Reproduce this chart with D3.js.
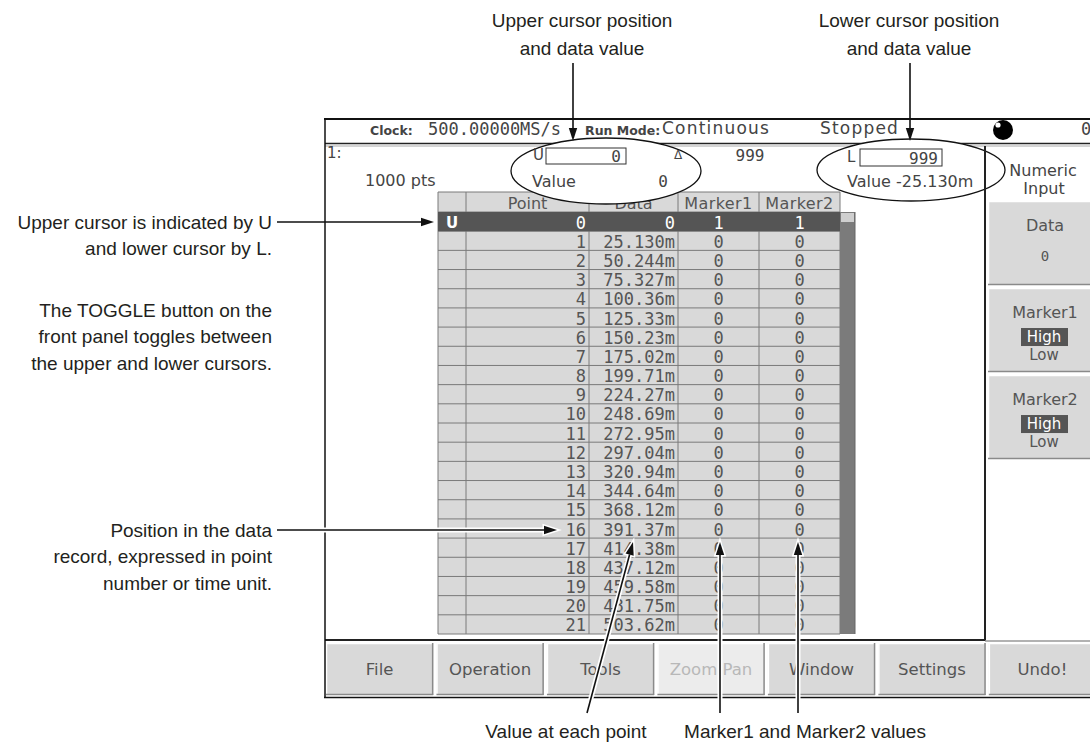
<!DOCTYPE html>
<html>
<head>
<meta charset="utf-8">
<script src="https://cdn.jsdelivr.net/npm/d3@7"></script>
<style>
  body { margin: 0; background: #fff; }
  svg { display: block; }
</style>
</head>
<body>
<script>
const pointNums = [0, 1, 2, 3, 4, 5, 6, 7, 8, 9, 10, 11, 12, 13, 14, 15, 16, 17, 18, 19, 20, 21];
const dataVals = ["0", "25.130m", "50.244m", "75.327m", "100.36m", "125.33m", "150.23m", "175.02m",
  "199.71m", "224.27m", "248.69m", "272.95m", "297.04m", "320.94m", "344.64m", "368.12m",
  "391.37m", "414.38m", "437.12m", "459.58m", "481.75m", "503.62m"];
const marker1Vals = [1, 0, 0, 0, 0, 0, 0, 0, 0, 0, 0, 0, 0, 0, 0, 0, 0, 0, 0, 0, 0, 0];
const marker2Vals = [1, 0, 0, 0, 0, 0, 0, 0, 0, 0, 0, 0, 0, 0, 0, 0, 0, 0, 0, 0, 0, 0];
const columnNames = ["", "Point", "Data", "Marker1", "Marker2"];
const menuLabels = ["File", "Operation", "Tools", "Zoom Pan", "Window", "Settings", "Undo!"];
const sideLabels = ["Data", "Marker1", "Marker2"];
const markerOptions = ["High", "Low"];
const statusLabels = ["Clock:", "Run Mode:"];
const statusValues = ["500.00000MS/s", "Continuous", "Stopped"];
const upperCursor = ["U", "0", "Value", "0"];
const lowerCursor = ["L", "999", "Value -25.130m"];
const deltaPoints = "999";
const waveInfo = ["1:", "1000 pts"];
const panelTitle = ["Numeric", "Input"];
const dataValue = "0";

const leftNotes = [
  { lines: ["Upper cursor is indicated by U", "and lower cursor by L."], y: 222 },
  { lines: ["The TOGGLE button on the", "front panel toggles between", "the upper and lower cursors."], y: 310 },
  { lines: ["Position in the data", "record, expressed in point", "number or time unit."], y: 530 }
];
const topNotes = [
  { lines: ["Upper cursor position", "and data value"], x: 582 },
  { lines: ["Lower cursor position", "and data value"], x: 909 }
];
const bottomNotes = [
  { text: "Value at each point", x: 566 },
  { text: "Marker1 and Marker2 values", x: 805 }
];

// ---- setup ----
const width = 1090, height = 744;
const MONO = "'DejaVu Sans Mono', monospace";
const SANS = "'DejaVu Sans', sans-serif";
const ANN = "'Liberation Sans', Arial, sans-serif";
const INK = "#4a4a4a";

const svg = d3.select("body").append("svg")
  .attr("width", width).attr("height", height)
  .attr("viewBox", [0, 0, width, height]);

svg.append("rect").attr("width", width).attr("height", height).attr("fill", "#fff");

const scr = svg.append("g");

function hline(g, x1, x2, y, color, w) {
  return g.append("line").attr("x1", x1).attr("x2", x2).attr("y1", y).attr("y2", y)
    .attr("stroke", color).attr("stroke-width", w || 1);
}
function vline(g, x, y1, y2, color, w) {
  return g.append("line").attr("x1", x).attr("x2", x).attr("y1", y1).attr("y2", y2)
    .attr("stroke", color).attr("stroke-width", w || 1);
}
function txt(g, s, x, y, font, size, fill, anchor) {
  return g.append("text").attr("x", x).attr("y", y)
    .attr("font-family", font).attr("font-size", size)
    .attr("fill", fill || INK).attr("text-anchor", anchor || "start")
    .attr("dominant-baseline", "central").text(s);
}

// ---- status bar ----
txt(scr, statusLabels[0], 370, 130, SANS, 12.5, "#444").attr("font-weight", "bold");
txt(scr, statusValues[0], 428, 129, MONO, 17, "#444");
txt(scr, statusLabels[1], 585, 130, SANS, 12.5, "#444").attr("font-weight", "bold");
txt(scr, statusValues[1], 662, 128, SANS, 17, "#444").attr("letter-spacing", 1.2);
txt(scr, statusValues[2], 820, 128, SANS, 17, "#444").attr("letter-spacing", 1.2);
scr.append("circle").attr("cx", 1003).attr("cy", 130).attr("r", 10).attr("fill", "#000");
scr.append("circle").attr("cx", 998).attr("cy", 125).attr("r", 2.6).attr("fill", "#fff");
txt(scr, "0", 1081, 129, MONO, 17, "#444");

hline(scr, 325, width, 143.5, "#222", 1.5);
hline(scr, 325, width, 146, "#aaa", 1);

// ---- waveform info ----
txt(scr, waveInfo[0], 327, 153, SANS, 15, "#444");
txt(scr, waveInfo[1], 365, 180, SANS, 16, "#444");

// ---- table ----
const tbl = scr.append("g");
const tableTop = 192, headerH = 20, tableBottom = 634;
const colEdges = [438, 466, 589, 678, 759, 840];
const colLeft = d3.scaleOrdinal().domain(columnNames).range(colEdges.slice(0, 5));
const colRight = d3.scaleOrdinal().domain(columnNames).range(colEdges.slice(1));
const rowY = d3.scaleBand().domain(pointNums).range([tableTop + headerH, tableBottom]);
const rh = rowY.bandwidth();

tbl.append("rect").attr("x", colEdges[0]).attr("y", tableTop)
  .attr("width", colEdges[5] - colEdges[0]).attr("height", tableBottom - tableTop)
  .attr("fill", "#d9d9d9");

// grid
tbl.selectAll("line.h").data(pointNums.concat([pointNums.length])).join("line")
  .attr("class", "h")
  .attr("x1", colEdges[0]).attr("x2", colEdges[5])
  .attr("y1", d => d < pointNums.length ? rowY(d) : tableBottom)
  .attr("y2", d => d < pointNums.length ? rowY(d) : tableBottom)
  .attr("stroke", "#7a7a7a");
hline(tbl, colEdges[0], colEdges[5], tableTop, "#7a7a7a");
tbl.selectAll("line.v").data(colEdges).join("line")
  .attr("class", "v")
  .attr("x1", d => d).attr("x2", d => d)
  .attr("y1", tableTop).attr("y2", tableBottom)
  .attr("stroke", "#7a7a7a");

// current (upper cursor) row
tbl.append("rect").attr("x", colEdges[0]).attr("y", rowY(0))
  .attr("width", colEdges[5] - colEdges[0]).attr("height", rh).attr("fill", "#555");

// scroll bar
tbl.append("rect").attr("x", colEdges[5]).attr("y", rowY(0))
  .attr("width", 15).attr("height", tableBottom - rowY(0)).attr("fill", "#7b7b7b");
tbl.append("rect").attr("x", colEdges[5] + 1).attr("y", rowY(0) + 1)
  .attr("width", 13).attr("height", 9).attr("fill", "#cfcfcf");
vline(tbl, colEdges[5] + 15, rowY(0), tableBottom, "#666");

// header
columnNames.forEach(c => {
  if (!c) return;
  txt(tbl, c, (colLeft(c) + colRight(c)) / 2, tableTop + headerH / 2 + 1, SANS, 16, "#555", "middle")
    .attr("letter-spacing", c.startsWith("Marker") ? 0.4 : 0);
});

// rows
const rows = tbl.selectAll("g.row").data(pointNums).join("g")
  .attr("class", "row")
  .attr("transform", d => `translate(0,${rowY(d) + rh / 2 + 1})`);
const rowInk = (d, i) => i === 0 ? "#fff" : "#555";
rows.append("text")
  .attr("x", (colLeft("") + colRight("")) / 2).attr("text-anchor", "middle")
  .attr("font-family", SANS).attr("font-size", 15).attr("font-weight", "bold")
  .attr("dominant-baseline", "central").attr("fill", rowInk)
  .text((d, i) => i === 0 ? upperCursor[0] : "");
rows.append("text")
  .attr("x", colRight("Point") - 3).attr("text-anchor", "end")
  .attr("font-family", MONO).attr("font-size", 17)
  .attr("dominant-baseline", "central").attr("fill", rowInk)
  .text(d => d);
rows.append("text")
  .attr("x", colRight("Data") - 3).attr("text-anchor", "end")
  .attr("font-family", MONO).attr("font-size", 17)
  .attr("dominant-baseline", "central").attr("fill", rowInk)
  .text((d, i) => dataVals[i]);
rows.append("text")
  .attr("x", (colLeft("Marker1") + colRight("Marker1")) / 2).attr("text-anchor", "middle")
  .attr("font-family", MONO).attr("font-size", 17)
  .attr("dominant-baseline", "central").attr("fill", rowInk)
  .text((d, i) => marker1Vals[i]);
rows.append("text")
  .attr("x", (colLeft("Marker2") + colRight("Marker2")) / 2).attr("text-anchor", "middle")
  .attr("font-family", MONO).attr("font-size", 17)
  .attr("dominant-baseline", "central").attr("fill", rowInk)
  .text((d, i) => marker2Vals[i]);

// ---- cursor read-outs, circled ----
const circ = svg.append("g");
circ.append("ellipse").attr("cx", 606).attr("cy", 171).attr("rx", 95).attr("ry", 33)
  .attr("fill", "#fff").attr("stroke", "#111").attr("stroke-width", 1.3);
circ.append("ellipse").attr("cx", 911).attr("cy", 170).attr("rx", 94).attr("ry", 31)
  .attr("fill", "#fff").attr("stroke", "#111").attr("stroke-width", 1.3);

txt(circ, upperCursor[0], 533, 155, SANS, 15, "#444");
circ.append("rect").attr("x", 546).attr("y", 148).attr("width", 80).attr("height", 16)
  .attr("fill", "#fff").attr("stroke", "#333");
txt(circ, upperCursor[1], 621, 156, MONO, 16, "#444", "end");
txt(circ, "Δ", 678, 155, SANS, 12, "#444", "middle");
txt(scr, deltaPoints, 750, 155, MONO, 16, "#444", "middle");
txt(circ, upperCursor[2], 532, 181, SANS, 16, "#444");
txt(circ, upperCursor[3], 663, 181, MONO, 16, "#444", "middle");

txt(circ, lowerCursor[0], 847, 157, SANS, 15, "#444");
circ.append("rect").attr("x", 860).attr("y", 149).attr("width", 82).attr("height", 17)
  .attr("fill", "#fff").attr("stroke", "#333");
txt(circ, lowerCursor[1], 938, 158, MONO, 16, "#444", "end");
txt(circ, lowerCursor[2], 847, 181, SANS, 16, "#444");

// ---- right panel ----
const side = svg.append("g");
vline(side, 985, 146, 641, "#222", 2);
txt(side, panelTitle[0], 1043, 170, SANS, 16, "#444", "middle");
txt(side, panelTitle[1], 1044, 188, SANS, 16, "#444", "middle");

const sideY = d3.scaleBand().domain(sideLabels).range([201, 459]).paddingInner(0.035);
function bevel(g, x, y, w, h, fill) {
  g.append("rect").attr("x", x).attr("y", y).attr("width", w).attr("height", h).attr("fill", fill);
  hline(g, x, x + w, y + 0.5, "#fff", 1.5);
  vline(g, x + 0.5, y, y + h, "#fff", 1.5);
  hline(g, x, x + w, y + h - 0.5, "#8a8a8a", 1.5);
  vline(g, x + w - 0.5, y, y + h, "#8a8a8a", 1.5);
}
sideLabels.forEach(s => {
  const y0 = sideY(s), bh = sideY.bandwidth();
  bevel(side, 988, y0, 106, bh, "#d9d9d9");
  txt(side, s, 1045, y0 + 24, SANS, 16, "#555", "middle");
  if (s === "Data") {
    txt(side, dataValue, 1045, y0 + 55, MONO, 14, "#555", "middle");
  } else {
    side.append("rect").attr("x", 1021).attr("y", y0 + 40).attr("width", 47).attr("height", 18).attr("fill", "#555");
    txt(side, markerOptions[0], 1044, y0 + 49, SANS, 15, "#fff", "middle");
    txt(side, markerOptions[1], 1044, y0 + 67, SANS, 15, "#555", "middle");
  }
});

// ---- bottom menu ----
const menu = svg.append("g");
hline(menu, 325, 985, 640, "#222", 2);
hline(menu, 985, width, 641, "#999", 1.5);
const menuX = d3.scaleBand().domain(menuLabels).range([326, 1096]).paddingInner(0.03);
menuLabels.forEach(m => {
  const off = m === "Zoom Pan";
  bevel(menu, menuX(m), 643, menuX.bandwidth(), 52, off ? "#ececec" : "#d9d9d9");
  txt(menu, m, menuX(m) + menuX.bandwidth() / 2, 669, SANS, 16.5, off ? "#b8b8b8" : "#555", "middle");
});

// screen frame
hline(scr, 324, width, 119, "#111", 2);
vline(svg, 325, 118, 698, "#111", 1.5);
hline(svg, 324, width, 697.5, "#111", 1.5);

// ---- annotations ----
const ann = svg.append("g");
function arrow(x1, y1, x2, y2, halo) {
  const a = Math.atan2(y2 - y1, x2 - x1), L = 13, hw = 4.2;
  const bx = x2 - L * Math.cos(a), by = y2 - L * Math.sin(a);
  const head = d3.line()([[x2, y2],
    [bx - hw * Math.sin(a), by + hw * Math.cos(a)],
    [bx + hw * Math.sin(a), by - hw * Math.cos(a)]]) + "Z";
  if (halo) {
    ann.append("line").attr("x1", x1).attr("y1", y1).attr("x2", bx).attr("y2", by)
      .attr("stroke", "#fff").attr("stroke-width", 5);
    ann.append("path").attr("d", head)
      .attr("fill", "#fff").attr("stroke", "#fff").attr("stroke-width", 3);
  }
  ann.append("line").attr("x1", x1).attr("y1", y1).attr("x2", bx).attr("y2", by)
    .attr("stroke", "#111").attr("stroke-width", 1.6);
  ann.append("path").attr("d", head).attr("fill", "#111");
}

leftNotes.forEach(n => n.lines.forEach((l, i) =>
  txt(ann, l, 272, n.y + i * 26.5, ANN, 19, "#231f20", "end")));
topNotes.forEach(n => n.lines.forEach((l, i) =>
  txt(ann, l, n.x, 20 + i * 28, ANN, 19, "#231f20", "middle")));
bottomNotes.forEach(n => txt(ann, n.text, n.x, 731, ANN, 19, "#231f20", "middle"));

arrow(573, 63, 573, 141, false);
arrow(910, 63, 910, 141, false);
arrow(277, 222, 434, 222, false);
arrow(277, 530, 557, 530, true);
arrow(587, 713, 633, 542, true);
arrow(720, 713, 720, 542, true);
arrow(798, 713, 798, 542, true);
</script>
</body>
</html>
